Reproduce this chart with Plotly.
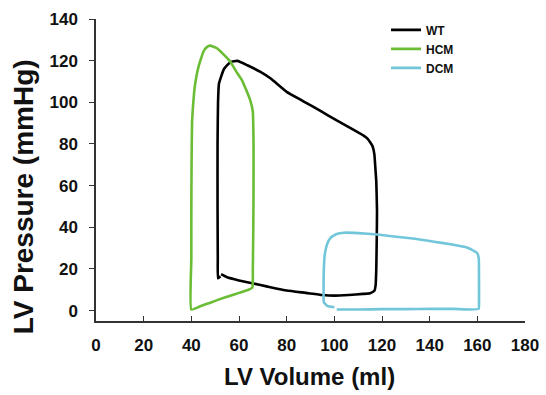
import plotly.graph_objects as go

# ---- data ----
series_names = ["WT", "HCM", "DCM"]

wt_volume = [52.5, 55, 60, 66, 72, 80, 88, 95, 100, 106, 112, 115, 116.8, 117.3,
             117.6, 117.8, 117.9, 117.6, 117.3, 116.8, 116,
             114, 112.3, 107, 101, 94, 87, 80, 73.3, 69, 63.5, 59.3, 56.5, 53.7, 51.6, 51.2,
             51.0, 51.0, 51.1, 51.2, 52.2]
wt_pressure = [17.5, 16, 14.5, 13, 11.5, 9.6, 8.5, 7.5, 7.2, 7.5, 8, 8.3, 9.5, 12,
               20, 35, 48, 62, 67, 75, 79,
               82.5, 84, 87.5, 91.3, 96, 100.5, 105, 111.4, 114.6, 117.8, 119.9, 119.4, 116, 109, 100,
               80, 50, 25, 15.5, 16.5]

hcm_volume = [40, 44, 48, 52, 56, 60, 64, 65.6,
              65.8, 66, 66.1, 66.1, 66, 65.8, 64.7, 63, 61.2, 59, 56.3, 53.5, 50.7, 47.9,
              46.5, 45.1, 43, 41.5, 40.9, 40.3, 40.1, 40, 40, 40]
hcm_pressure = [0.5, 2.2, 3.8, 5.5, 7, 8.5, 10, 11,
                20, 40, 60, 80, 88, 95.6, 101, 106, 110.7, 114.5, 119.6, 123, 126, 127.2,
                126.5, 124.4, 117, 108, 101, 90, 70, 50, 25, 0.5]

dcm_volume = [101, 110, 120, 130, 140, 150, 160.5,
              160.7, 160.7, 160.6, 160, 158, 155.6, 150, 145, 140, 133, 125, 118, 110, 104,
              101, 98.5, 97, 96, 95.6, 95.5, 95.6, 97, 100]
dcm_pressure = [0.5, 0.5, 0.7, 0.7, 0.8, 0.8, 0.8,
                5, 15, 25, 27.5, 29, 30.3, 31.6, 32.5, 33.4, 34.6, 35.6, 36.5, 37.2, 37.4,
                36.8, 35, 32, 27, 20, 10, 4, 2.3, 1.6]

x_ticks = [0, 20, 40, 60, 80, 100, 120, 140, 160, 180]
y_ticks = [0, 20, 40, 60, 80, 100, 120, 140]

x_title = "LV Volume (ml)"
y_title = "LV Pressure (mmHg)"

colors = ["#000000", "#6abd35", "#72c6da"]

fig = go.Figure()
for name, xs, ys, c in zip(series_names,
                           [wt_volume, hcm_volume, dcm_volume],
                           [wt_pressure, hcm_pressure, dcm_pressure],
                           colors):
    fig.add_trace(go.Scatter(x=xs, y=ys, mode="lines", name=name,
                             line=dict(color=c, width=2.6, shape="spline", smoothing=0.4)))

font_family = "Arial, Liberation Sans, sans-serif"

fig.update_layout(
    width=546, height=395,
    margin=dict(l=96, r=21, t=19, b=74, autoexpand=False),
    paper_bgcolor="white", plot_bgcolor="white",
    font=dict(family=font_family, color="#111111"),
    showlegend=True,
    legend=dict(x=0.676, y=1.012, xanchor="left", yanchor="top",
                bgcolor="rgba(0,0,0,0)", borderwidth=0,
                font=dict(size=12, weight="bold", color="#111111"),
                tracegroupgap=0, itemwidth=30),
    xaxis=dict(range=[0, 180], tickvals=x_ticks, ticktext=[str(v) for v in x_ticks],
               showgrid=False, zeroline=False, showline=True, linecolor="#333333", linewidth=1.5,
               ticks="inside", ticklen=5, tickcolor="#333333", tickwidth=1.2,
               tickfont=dict(size=17, weight="bold", color="#111111"),
               ticklabelstandoff=8, automargin=False),
    yaxis=dict(range=[-5, 140], tickvals=y_ticks, ticktext=[str(v) for v in y_ticks],
               showgrid=False, zeroline=False, showline=True, linecolor="#333333", linewidth=1.5,
               ticks="outside", ticklen=5, tickcolor="#333333", tickwidth=1.2,
               tickfont=dict(size=17, weight="bold", color="#111111"),
               ticklabelstandoff=8, automargin=False),
    annotations=[
        dict(text=x_title, xref="paper", yref="paper", x=0.497, y=-0.235,
             xanchor="center", yanchor="bottom", showarrow=False,
             font=dict(size=24, weight="bold", color="#111111")),
        dict(text=y_title, xref="paper", yref="paper", x=-0.17, y=0.41,
             xanchor="center", yanchor="middle", textangle=-90, showarrow=False,
             font=dict(size=28, weight="bold", color="#111111")),
    ],
)

fig.write_html("out.html", config={"displayModeBar": False},
               post_script="document.body.style.margin='0';")
